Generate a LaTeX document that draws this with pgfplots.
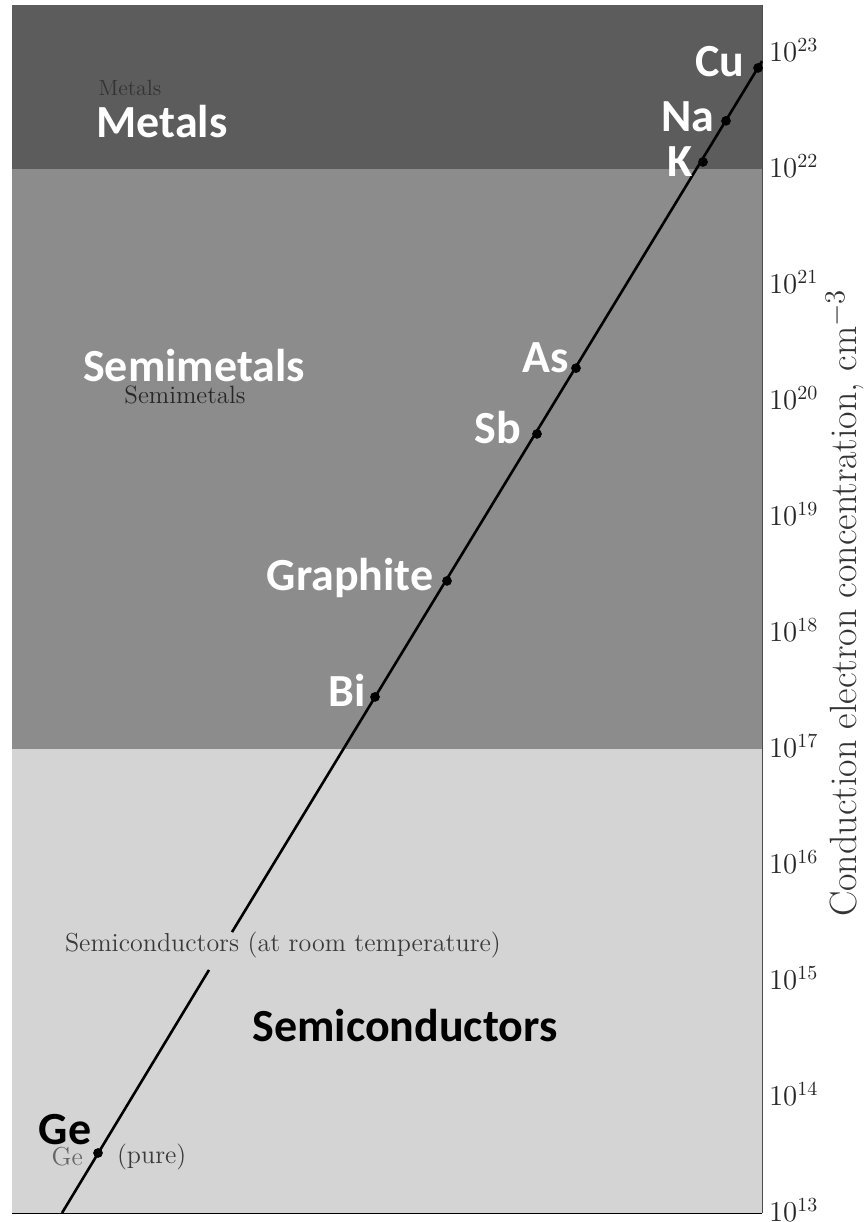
\documentclass[border=0pt]{standalone}
\usepackage{pgfplots}
\pgfplotsset{compat=1.18}
\usepackage{fontspec}
\newfontfamily\calibri{Carlito}

\definecolor{metalband}{HTML}{5C5C5C}
\definecolor{semiband}{HTML}{8C8C8C}
\definecolor{condband}{HTML}{D4D4D4}
\definecolor{oldtext}{HTML}{3A3A3A}

\begin{document}
\begin{tikzpicture}
\begin{axis}[
    at={(6pt,4.5pt)}, anchor=south west,
    scale only axis, width=375pt, height=604pt,
    xmin=12, xmax=762,
    ymode=log, ymin=1e13, ymax=2.594e23,
    axis x line=bottom, axis y line=right,
    axis line style={-},
    x axis line style={black, line width=1pt},
    y axis line style={black!70, line width=0.5pt},
    xtick=\empty,
    ytick={1e13,1e14,1e15,1e16,1e17,1e18,1e19,1e20,1e21,1e22,1e23},
    yminorticks=false,
    tick align=inside,
    major tick length=7pt,
    ytick style={black, line width=1.2pt},
    yticklabel style={font=\fontsize{14}{16}\selectfont, text=black!85, yshift=1.5pt},
    clip=false,
]
% bands
\addplot[fill=condband, draw=none, forget plot] coordinates {(12,1e13) (762,1e13) (762,1e17) (12,1e17)} -- cycle;
\addplot[fill=semiband, draw=none, forget plot] coordinates {(12,1e17) (762,1e17) (762,1e22) (12,1e22)} -- cycle;
\addplot[fill=metalband, draw=none, forget plot] coordinates {(12,1e22) (762,1e22) (762,2.594e23) (12,2.594e23)} -- cycle;

% the line, broken where the old label sits
\addplot[black, line width=1.3pt] coordinates {(62,1e13) (209,1.245e15)};
\addplot[black, line width=1.3pt] coordinates {(232,2.64e15) (762,8.5e22)};

% elements
\addplot[only marks, mark=*, mark size=2.2pt, black] coordinates {
    (758,7.43e22) (726,2.60e22) (703,1.15e22)
    (576,1.92e20) (537,5.2e19) (447,2.81e18) (375,2.81e17)
    (98,3.29e13)
};

% old serif labels
\node[text=black!80, font=\fontsize{11}{13}\selectfont] at (axis cs:130,5.0e22) {Metals};
\node[text=black!85, font=\fontsize{12.5}{14}\selectfont] at (axis cs:185,1.12e20) {Semimetals};
\node[text=oldtext, font=\fontsize{13}{15}\selectfont, anchor=west] at (axis cs:58,2.04e15) {Semiconductors (at room temperature)};
\node[text=black!60, font=\fontsize{13}{15}\selectfont, anchor=east] at (axis cs:90,3.04e13) {Ge};
\node[text=oldtext, font=\fontsize{13}{15}\selectfont, anchor=west] at (axis cs:110,3.04e13) {(pure)};

% bold labels
\begin{scope}[every node/.style={font=\fontsize{23}{26}\calibri\bfseries}]
\node[text=white] at (axis cs:720,8.36e22) {Cu};
\node[text=white] at (axis cs:688,2.81e22) {Na};
\node[text=white] at (axis cs:680,1.15e22) {K};
\node[text=white] at (axis cs:162,2.54e22) {Metals};
\node[text=white] at (axis cs:194,2.04e20) {Semimetals};
\node[text=white] at (axis cs:546,2.34e20) {As};
\node[text=white] at (axis cs:498,5.85e19) {Sb};
\node[text=white] at (axis cs:350,2.98e18) {Graphite};
\node[text=white] at (axis cs:347,3.23e17) {Bi};
\node[text=black] at (axis cs:405,4.17e14) {Semiconductors};
\node[text=black] at (axis cs:65,5.2e13) {Ge};
\end{scope}

\node[rotate=90, text=black!80, font=\fontsize{19}{21}\selectfont]
    at ([xshift=41.5pt]rel axis cs:1,0.505) {Conduction electron concentration, cm$^{-3}$};
\end{axis}
\pgfresetboundingbox
\path (0,0) rectangle (432pt,611pt);
\end{tikzpicture}
\end{document}
